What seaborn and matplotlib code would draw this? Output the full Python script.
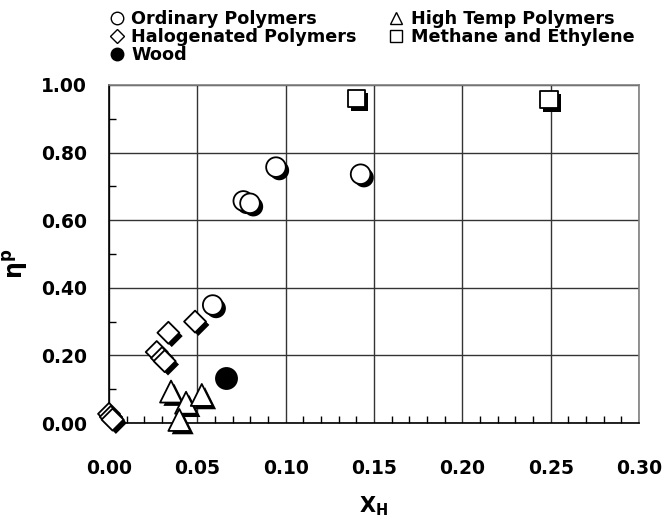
import matplotlib
matplotlib.use("Agg")
import matplotlib.pyplot as plt
import matplotlib.patheffects as pe
from matplotlib.lines import Line2D
from matplotlib.ticker import MultipleLocator, FormatStrFormatter
import seaborn as sns
import pandas as pd

sns.set_style("white")
plt.rcParams['font.family'] = ['DejaVu Sans']
plt.rcParams['font.weight'] = 'bold'
plt.rcParams['text.color'] = 'black'
plt.rcParams['axes.labelcolor'] = 'black'
plt.rcParams['xtick.color'] = 'black'
plt.rcParams['ytick.color'] = 'black'
plt.rcParams['mathtext.fontset'] = 'custom'
plt.rcParams['mathtext.rm'] = 'DejaVu Sans:bold'
plt.rcParams['mathtext.it'] = 'DejaVu Sans:bold'
plt.rcParams['mathtext.bf'] = 'DejaVu Sans:bold'

# Data
ordinary_x = [0.0587, 0.0760, 0.0798, 0.0945, 0.1424]
ordinary_y = [0.349, 0.657, 0.650, 0.757, 0.736]

halogen_x = [0.000, 0.001, 0.002, 0.027, 0.030, 0.0315, 0.0336, 0.0487]
halogen_y = [0.027, 0.018, 0.010, 0.210, 0.192, 0.183, 0.267, 0.300]

hightemp_x = [0.0351, 0.0436, 0.0525, 0.0398]
hightemp_y = [0.093, 0.060, 0.083, 0.009]

methane_x = [0.140, 0.249]
methane_y = [0.960, 0.957]

wood_x = [0.0662]
wood_y = [0.132]

labels = ["Ordinary Polymers", "Halogenated Polymers", "Wood",
          "High Temp Polymers", "Methane and Ethylene"]

fig = plt.figure(figsize=(6.66, 5.23), dpi=100)
ax = fig.add_axes([0.1637, 0.1912, 0.7958, 0.6463])

shadow = [pe.SimplePatchShadow(offset=(2.4, -2.4), shadow_rgbFace='black', alpha=1.0), pe.Normal()]

groups = [
    (ordinary_x, ordinary_y, 'o', 'white', 200, True),
    (halogen_x, halogen_y, 'D', 'white', 125, True),
    (hightemp_x, hightemp_y, '^', 'white', 250, True),
    (methane_x, methane_y, 's', 'white', 160, True),
    (wood_x, wood_y, 'o', 'black', 230, False),
]
for xs, ys, m, fc, s, sh in groups:
    df = pd.DataFrame({'x': xs, 'y': ys})
    sns.scatterplot(data=df, x='x', y='y', marker=m, s=s, color=fc,
                    edgecolor='black', linewidth=1.3, ax=ax, zorder=3,
                    legend=False, clip_on=False)
    if sh:
        ax.collections[-1].set_path_effects(shadow)

ax.set_xlim(0, 0.30)
ax.set_ylim(0, 1.0)
ax.xaxis.set_major_locator(MultipleLocator(0.05))
ax.xaxis.set_minor_locator(MultipleLocator(0.01))
ax.yaxis.set_major_locator(MultipleLocator(0.2))
ax.yaxis.set_minor_locator(MultipleLocator(0.1))
ax.xaxis.set_major_formatter(FormatStrFormatter('%.2f'))
ax.yaxis.set_major_formatter(FormatStrFormatter('%.2f'))
ax.grid(True, which='major', color='#333333', linewidth=1.0)
ax.tick_params(which='major', direction='in', length=0, labelsize=13.5,
               labelcolor='black')
ax.tick_params(axis='y', which='major', pad=16)
ax.tick_params(axis='x', which='major', pad=26)
ax.tick_params(which='minor', direction='in', length=5, width=1, color='black',
               bottom=True, left=True)
for lab in ax.get_xticklabels() + ax.get_yticklabels():
    lab.set_fontweight('bold')
for side in ['left', 'bottom']:
    ax.spines[side].set_color('black')
    ax.spines[side].set_linewidth(1.2)
for side in ['top', 'right']:
    ax.spines[side].set_color('#808080')
    ax.spines[side].set_linewidth(1.2)

ax.set_xlabel(r'$\mathrm{X_H}$', fontsize=15, color='black')
ax.xaxis.set_label_coords(0.5, -0.21)
ax.set_ylabel(r'$\mathrm{\eta^p}$', fontsize=17, color='black')
ax.yaxis.set_label_coords(-0.15, 0.47)

handles = [
    Line2D([], [], marker='o', ls='none', mfc='white', mec='black', ms=9, mew=1),
    Line2D([], [], marker='D', ls='none', mfc='white', mec='black', ms=7, mew=1),
    Line2D([], [], marker='o', ls='none', mfc='black', mec='black', ms=9, mew=1),
    Line2D([], [], marker='^', ls='none', mfc='white', mec='black', ms=9, mew=1),
    Line2D([], [], marker='s', ls='none', mfc='white', mec='black', ms=8.5, mew=1),
]
fig.legend(handles, labels, loc='upper left', bbox_to_anchor=(111 / 666, 1 - 10 / 523),
           ncol=2, frameon=False, handlelength=0.7, handletextpad=0.45,
           labelspacing=0.0, columnspacing=1.9, borderpad=0.0, borderaxespad=0.0,
           prop={'weight': 'bold', 'size': 12.7})

fig.savefig('out.png', dpi=100)
